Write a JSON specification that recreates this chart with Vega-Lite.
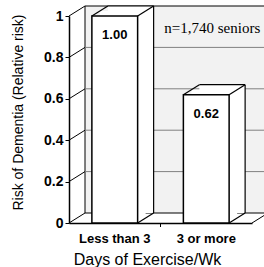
{
  "$schema": "https://vega.github.io/schema/vega-lite/v6.json",
  "autosize": {"type": "none"},
  "padding": {"left": 69, "top": 16, "right": 12, "bottom": 44},
  "width": 183,
  "height": 207,
  "background": "white",
  "config": {"view": {"stroke": null}},
  "datasets": {
    "bars": [
      {"days": "Less than 3", "risk": 1.0},
      {"days": "3 or more", "risk": 0.62}
    ],
    "ticks": [
      {"v": 0}, {"v": 0.2}, {"v": 0.4}, {"v": 0.6}, {"v": 0.8}, {"v": 1}
    ],
    "note": [{"label": "n=1,740 seniors", "days": "3 or more", "pos": 0.92}]
  },
  "data": {"name": "bars"},
  "encoding": {
    "x": {
      "field": "days", "type": "nominal", "sort": null,
      "scale": {"paddingInner": 0.5, "paddingOuter": 0.25},
      "axis": {
        "labelAngle": 0, "ticks": false, "labelPadding": 9,
        "labelFont": "Liberation Sans", "labelFontSize": 13, "labelFontWeight": "bold", "labelColor": "black",
        "domainColor": "black", "domainWidth": 1.5,
        "title": "Days of Exercise/Wk", "titleFont": "Liberation Sans", "titleFontSize": 16, "titleFontWeight": "normal", "titleColor": "black",
        "titleX": 78, "titleY": 41, "titleBaseline": "alphabetic", "titleAlign": "center"
      }
    }
  },
  "layer": [
    {
      "data": {"name": "ticks"},
      "transform": [{"filter": "datum.v == 1"}],
      "mark": {"type": "rect", "fill": "#f2f2f2", "stroke": "black", "strokeWidth": 1, "xOffset": 16, "x2Offset": 16, "yOffset": -10, "y2Offset": -10},
      "encoding": {
        "x": {"value": 0}, "x2": {"value": "width"},
        "y": {"field": "v", "type": "quantitative", "scale": {"domain": [0, 1]},
          "axis": {
            "values": [0, 0.2, 0.4, 0.6, 0.8, 1], "format": "~g", "grid": false,
            "labelFont": "Liberation Sans", "labelFontSize": 14, "labelFontWeight": "bold", "labelColor": "black", "labelPadding": 2,
            "tickColor": "black", "tickSize": 4, "domainColor": "black", "domainWidth": 1.5,
            "title": "Risk of Dementia (Relative risk)", "titleFont": "Liberation Sans", "titleFontSize": 14, "titleFontWeight": "normal", "titleColor": "black",
            "titleX": -47, "titleY": 96, "titleAngle": -90, "titleBaseline": "alphabetic", "titleAlign": "center"
          }},
        "y2": {"datum": 0}
      }
    },
    {
      "data": {"name": "ticks"},
      "transform": [{"filter": "datum.v > 0 && datum.v < 1"}],
      "mark": {"type": "rule", "color": "#808080", "strokeWidth": 1, "xOffset": 16, "x2Offset": 16, "yOffset": -10},
      "encoding": {"x": {"value": 0}, "x2": {"value": "width"}, "y": {"field": "v", "type": "quantitative"}}
    },
    {
      "data": {"name": "ticks"},
      "mark": {"type": "rule", "color": "black", "strokeWidth": 1, "x2Offset": 16, "y2Offset": -10},
      "encoding": {"x": {"value": 0}, "x2": {"value": 0}, "y": {"field": "v", "type": "quantitative"}, "y2": {"field": "v"}}
    },
    {
      "data": {"name": "ticks"},
      "transform": [{"filter": "datum.v == 0"}],
      "mark": {"type": "rule", "color": "black", "strokeWidth": 1, "x2Offset": 16, "y2Offset": -10},
      "encoding": {"x": {"value": "width"}, "x2": {"value": "width"}, "y": {"field": "v", "type": "quantitative"}, "y2": {"field": "v"}}
    },
    {
      "mark": {"type": "bar", "fill": "white", "xOffset": 16, "x2Offset": 16, "yOffset": -10, "y2Offset": -10},
      "encoding": {"y": {"field": "risk", "type": "quantitative"}, "y2": {"datum": 0}}
    },
    {
      "mark": {"type": "bar", "fill": "white", "xOffset": 8, "x2Offset": 8, "yOffset": -5, "y2Offset": -5},
      "encoding": {"y": {"field": "risk", "type": "quantitative"}, "y2": {"datum": 0}}
    },
    {
      "mark": {"type": "rule", "color": "black", "strokeWidth": 1.2, "xOffset": 16, "x2Offset": 16, "yOffset": -10},
      "encoding": {
        "x": {"field": "days", "type": "nominal", "bandPosition": 0},
        "x2": {"field": "days", "bandPosition": 1},
        "y": {"field": "risk", "type": "quantitative"}
      }
    },
    {
      "mark": {"type": "rule", "color": "black", "strokeWidth": 1.2, "x2Offset": 16, "y2Offset": -10},
      "encoding": {
        "x": {"field": "days", "type": "nominal", "bandPosition": 0},
        "x2": {"field": "days", "bandPosition": 0},
        "y": {"field": "risk", "type": "quantitative"},
        "y2": {"field": "risk"}
      }
    },
    {
      "mark": {"type": "rule", "color": "black", "strokeWidth": 1.2, "x2Offset": 16, "y2Offset": -10},
      "encoding": {
        "x": {"field": "days", "type": "nominal", "bandPosition": 1},
        "x2": {"field": "days", "bandPosition": 1},
        "y": {"field": "risk", "type": "quantitative"},
        "y2": {"field": "risk"}
      }
    },
    {
      "mark": {"type": "rule", "color": "black", "strokeWidth": 1.2, "x2Offset": 16, "y2Offset": -10},
      "encoding": {
        "x": {"field": "days", "type": "nominal", "bandPosition": 1},
        "x2": {"field": "days", "bandPosition": 1},
        "y": {"datum": 0, "type": "quantitative"},
        "y2": {"datum": 0}
      }
    },
    {
      "mark": {"type": "rule", "color": "black", "strokeWidth": 1.2, "xOffset": 16, "yOffset": -10, "y2Offset": -10},
      "encoding": {
        "x": {"field": "days", "type": "nominal", "bandPosition": 1},
        "y": {"field": "risk", "type": "quantitative"},
        "y2": {"datum": 0}
      }
    },
    {
      "transform": [{"filter": "datum.days == 'Less than 3'"}],
      "mark": {"type": "rule", "color": "black", "strokeWidth": 1, "y2Offset": 4},
      "encoding": {
        "x": {"field": "days", "type": "nominal", "bandPosition": 1.5},
        "y": {"datum": 0, "type": "quantitative"},
        "y2": {"datum": 0}
      }
    },
    {
      "mark": {"type": "bar", "fill": "white", "stroke": "black", "strokeWidth": 1.5},
      "encoding": {"y": {"field": "risk", "type": "quantitative"}, "y2": {"datum": 0}}
    },
    {
      "mark": {"type": "text", "font": "Liberation Sans", "fontSize": 13, "fontWeight": "bold", "color": "black", "dy": 23, "baseline": "alphabetic"},
      "encoding": {"y": {"field": "risk", "type": "quantitative"}, "text": {"field": "risk", "type": "quantitative", "format": ".2f"}}
    },
    {
      "data": {"name": "note"},
      "mark": {"type": "text", "font": "Liberation Serif", "fontSize": 15, "color": "black", "dx": 6, "baseline": "alphabetic"},
      "encoding": {"x": {"field": "days", "type": "nominal"}, "y": {"field": "pos", "type": "quantitative"}, "text": {"field": "label"}}
    }
  ]
}
